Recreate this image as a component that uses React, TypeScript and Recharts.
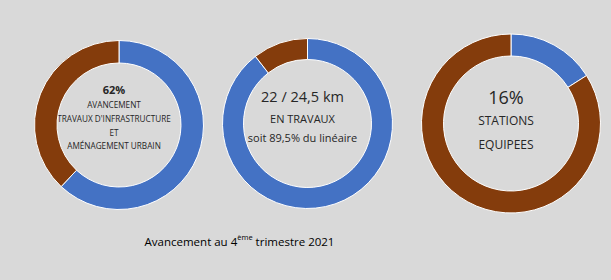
import React from 'react'
import { PieChart, Pie, Cell } from 'recharts'

// Avancement des travaux - 4ème trimestre 2021
const indicators = ['Infrastructure', 'Linéaire', 'Stations']
const doneValues = [62, 89.5, 16]
const remainingValues = [38, 10.5, 84]

const centerLines: { text: string; size: number; bold?: boolean }[][] = [
  [
    { text: '62%', size: 11, bold: true },
    { text: 'AVANCEMENT', size: 8.2 },
    { text: "TRAVAUX D'INFRASTRUCTURE", size: 8.2 },
    { text: 'ET', size: 8.2 },
    { text: 'AMÉNAGEMENT URBAIN', size: 8.2 },
  ],
  [
    { text: '22 / 24,5 km', size: 14.5 },
    { text: 'EN TRAVAUX', size: 11 },
    { text: 'soit 89,5% du linéaire', size: 11 },
  ],
  [
    { text: '16%', size: 18 },
    { text: 'STATIONS', size: 12 },
    { text: 'EQUIPEES', size: 12 },
  ],
]

// line offsets (px from centre) for each donut's text
const lineOffsets = [
  [-31, -16, -2, 12, 25],
  [-22, 0, 19],
  [-22, 2, 26],
]

const geometry = [
  { cx: 114, cy: 120, inner: 62, outer: 84.5 },
  { cx: 302.5, cy: 118.5, inner: 64, outer: 85 },
  { cx: 506, cy: 118.5, inner: 67.5, outer: 89.5 },
]

const BLUE = '#4472C4'
const BROWN = '#843C0C'
const FONT = '"Open Sans", "DejaVu Sans", sans-serif'

export default function App() {
  return (
    <div style={{ position: 'fixed', left: 0, top: 0, width: 611, height: 280, background: '#D9D9D9' }}>
      <PieChart width={611} height={280}>
        {indicators.map((name, i) => (
          <Pie
            key={name}
            data={[
              { name: 'Réalisé', value: doneValues[i] },
              { name: 'Restant', value: remainingValues[i] },
            ]}
            dataKey="value"
            cx={geometry[i].cx}
            cy={geometry[i].cy}
            innerRadius={geometry[i].inner}
            outerRadius={geometry[i].outer}
            startAngle={90}
            endAngle={-270}
            stroke="#FFFFFF"
            strokeWidth={1}
            isAnimationActive={false}
          >
            <Cell fill={BLUE} />
            <Cell fill={BROWN} />
          </Pie>
        ))}
        {centerLines.map((lines, i) => (
          <g key={`center-${i}`}>
            {lines.map((l, j) => (
              <text
                key={j}
                x={geometry[i].cx}
                y={geometry[i].cy + lineOffsets[i][j]}
                textAnchor="middle"
                dominantBaseline="central"
                fontSize={l.size}
                fontWeight={l.bold ? 700 : 400}
                fontFamily={FONT}
                fill="#262626"
              >
                {l.text}
              </text>
            ))}
          </g>
        ))}
        <text x={239.5} y={241} textAnchor="middle" dominantBaseline="central" fontSize={11.5} fontFamily={FONT} fill="#000">
          Avancement au 4
          <tspan fontSize={7.5} dy={-4}>ème</tspan>
          <tspan dy={4}> trimestre 2021</tspan>
        </text>
      </PieChart>
    </div>
  )
}
